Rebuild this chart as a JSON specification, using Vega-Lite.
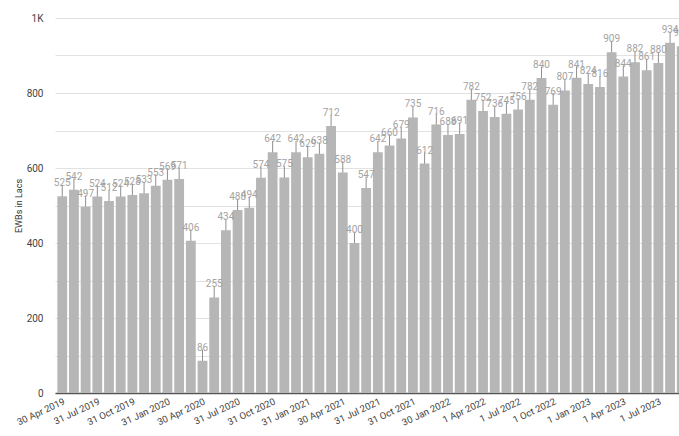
{
  "$schema": "https://vega.github.io/schema/vega-lite/v6.json",
  "autosize": {"type": "none"},
  "padding": {"left": 55, "top": 18, "right": 0, "bottom": 43},
  "width": 624,
  "height": 375,
  "background": "white",
  "config": {"view": {"stroke": null}, "font": "Roboto"},
  "data": {"values": [
    {"d": "30 Apr 2019", "v": 525, "e": 30},
    {"d": "31 May 2019", "v": 542, "e": 30},
    {"d": "30 Jun 2019", "v": 497, "e": 30},
    {"d": "31 Jul 2019", "v": 524, "e": 30},
    {"d": "31 Aug 2019", "v": 512, "e": 30},
    {"d": "30 Sep 2019", "v": 524, "e": 30},
    {"d": "31 Oct 2019", "v": 528, "e": 30},
    {"d": "30 Nov 2019", "v": 533, "e": 30},
    {"d": "31 Dec 2019", "v": 553, "e": 30},
    {"d": "31 Jan 2020", "v": 569, "e": 30},
    {"d": "29 Feb 2020", "v": 571, "e": 30},
    {"d": "31 Mar 2020", "v": 406, "e": 30},
    {"d": "30 Apr 2020", "v": 86, "e": 30},
    {"d": "31 May 2020", "v": 255, "e": 30},
    {"d": "30 Jun 2020", "v": 434, "e": 30},
    {"d": "31 Jul 2020", "v": 488, "e": 30},
    {"d": "31 Aug 2020", "v": 494, "e": 30},
    {"d": "30 Sep 2020", "v": 574, "e": 30},
    {"d": "31 Oct 2020", "v": 642, "e": 30},
    {"d": "30 Nov 2020", "v": 575, "e": 30},
    {"d": "31 Dec 2020", "v": 642, "e": 30},
    {"d": "31 Jan 2021", "v": 629, "e": 30},
    {"d": "28 Feb 2021", "v": 638, "e": 30},
    {"d": "31 Mar 2021", "v": 712, "e": 30},
    {"d": "30 Apr 2021", "v": 588, "e": 30},
    {"d": "31 May 2021", "v": 400, "e": 30},
    {"d": "30 Jun 2021", "v": 547, "e": 30},
    {"d": "31 Jul 2021", "v": 642, "e": 30},
    {"d": "31 Aug 2021", "v": 660, "e": 30},
    {"d": "30 Sep 2021", "v": 679, "e": 30},
    {"d": "31 Oct 2021", "v": 735, "e": 30},
    {"d": "30 Nov 2021", "v": 612, "e": 30},
    {"d": "31 Dec 2021", "v": 716, "e": 30},
    {"d": "30 Jan 2022", "v": 688, "e": 30},
    {"d": "28 Feb 2022", "v": 691, "e": 30},
    {"d": "1 Mar 2022", "v": 782, "e": 30},
    {"d": "1 Apr 2022", "v": 752, "e": 30},
    {"d": "1 May 2022", "v": 736, "e": 30},
    {"d": "1 Jun 2022", "v": 745, "e": 30},
    {"d": "1 Jul 2022", "v": 756, "e": 30},
    {"d": "1 Aug 2022", "v": 782, "e": 30},
    {"d": "1 Sep 2022", "v": 840, "e": 30},
    {"d": "1 Oct 2022", "v": 769, "e": 30},
    {"d": "1 Nov 2022", "v": 807, "e": 30},
    {"d": "1 Dec 2022", "v": 841, "e": 30},
    {"d": "1 Jan 2023", "v": 824, "e": 30},
    {"d": "1 Feb 2023", "v": 816, "e": 30},
    {"d": "1 Mar 2023", "v": 909, "e": 30},
    {"d": "1 Apr 2023", "v": 844, "e": 30},
    {"d": "1 May 2023", "v": 882, "e": 30},
    {"d": "1 Jun 2023", "v": 861, "e": 30},
    {"d": "1 Jul 2023", "v": 880, "e": 30},
    {"d": "1 Aug 2023", "v": 934, "e": 30},
    {"d": "1 Sep 2023", "v": 925, "e": 30}
  ]},
  "encoding": {
    "x": {
      "field": "d", "type": "nominal", "sort": null,
      "scale": {"type": "band", "range": [0, 634], "paddingInner": 0.16, "paddingOuter": 0.2},
      "axis": {
        "title": null,
        "values": ["30 Apr 2019", "31 Jul 2019", "31 Oct 2019", "31 Jan 2020", "30 Apr 2020", "31 Jul 2020", "31 Oct 2020", "31 Jan 2021", "30 Apr 2021", "31 Jul 2021", "31 Oct 2021", "30 Jan 2022", "1 Apr 2022", "1 Jul 2022", "1 Oct 2022", "1 Jan 2023", "1 Apr 2023", "1 Jul 2023"],
        "labelAngle": -25, "labelAlign": "right", "labelBaseline": "top",
        "labelFontSize": 9.5, "labelColor": "#444444", "labelPadding": 3,
        "ticks": false, "domainColor": "#555555", "domainWidth": 1.5, "grid": false
      }
    },
    "y": {
      "field": "v", "type": "quantitative",
      "scale": {"domain": [0, 1000], "nice": false},
      "axis": {
        "title": "EWBs in Lacs", "titleFontSize": 9, "titleFontWeight": "normal", "titleColor": "#333333", "titlePadding": 3,
        "values": [0, 100, 200, 300, 400, 500, 600, 700, 800, 900, 1000],
        "labelExpr": "datum.value % 200 == 0 ? (datum.value == 1000 ? '1K' : datum.label) : ''",
        "labelFontSize": 10, "labelColor": "#444444", "labelPadding": 12,
        "ticks": false, "domain": false, "gridColor": "#e2e2e2"
      }
    }
  },
  "layer": [
    {
      "mark": {"type": "errorbar", "color": "#8f8f8f", "thickness": 1},
      "encoding": {
        "yError": {"field": "e"}
      }
    },
    {
      "mark": {"type": "bar", "color": "#b6b6b6"}
    },
    {
      "mark": {"type": "text", "color": "#a3a3a3", "fontSize": 10, "baseline": "bottom", "dy": -8},
      "encoding": {
        "text": {"field": "v", "type": "quantitative"}
      }
    }
  ]
}
